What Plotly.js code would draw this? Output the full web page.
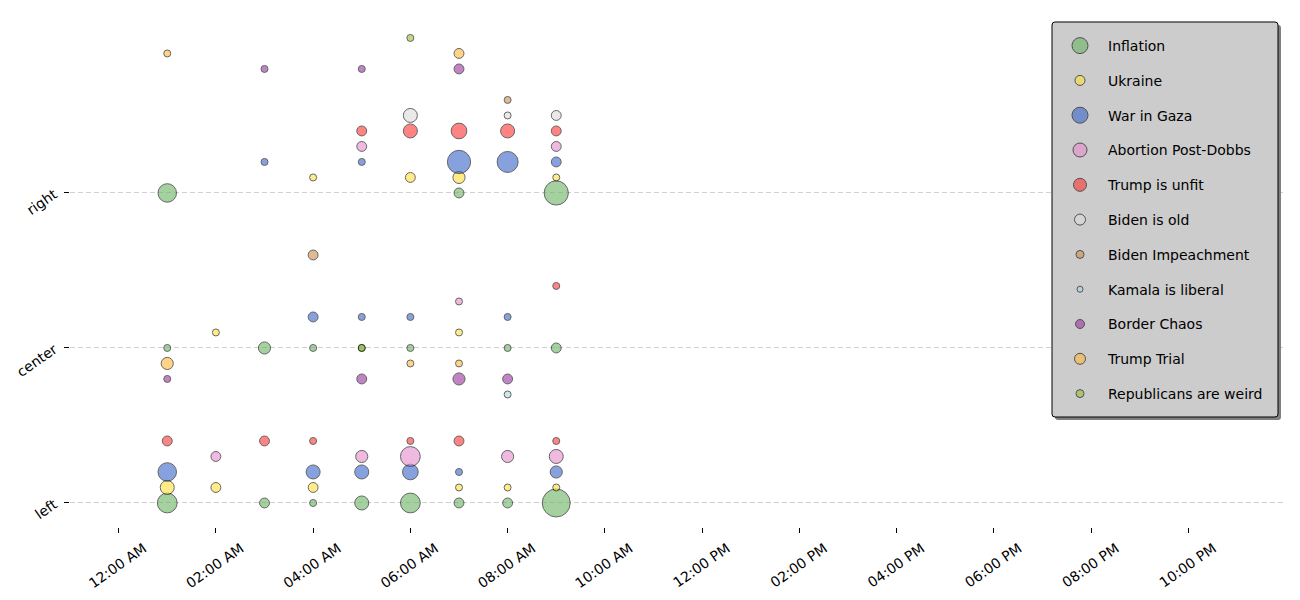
<!DOCTYPE html>
<html><head><meta charset="utf-8">
<script src="https://cdn.plot.ly/plotly-3.0.1.min.js"></script>
<style>html,body{margin:0;padding:0;background:#fff}#chart{width:1300px;height:600px}</style>
</head><body><div id="chart"></div>
<script>
const topics = ['Inflation','Ukraine','War in Gaza','Abortion Post-Dobbs','Trump is unfit','Biden is old','Biden Impeachment','Kamala is liberal','Border Chaos','Trump Trial','Republicans are weird'];
const leanings = ['left','center','right'];

// each entry: [hour of day, leaning, number of stories]
const inflation = [[1,'left',8],[3,'left',2],[4,'left',1],[5,'left',4],[6,'left',8],[7,'left',2],[8,'left',2],[9,'left',16],
  [1,'center',1],[3,'center',3],[4,'center',1],[5,'center',1],[6,'center',1],[8,'center',1],[9,'center',2],
  [1,'right',7],[7,'right',2],[9,'right',12]];
const ukraine = [[1,'left',4],[2,'left',2],[4,'left',2],[7,'left',1],[8,'left',1],[9,'left',1],
  [2,'center',1],[7,'center',1],
  [4,'right',1],[6,'right',2],[7,'right',3],[9,'right',1]];
const warInGaza = [[1,'left',7],[4,'left',4],[5,'left',4],[6,'left',5],[7,'left',1],[9,'left',3],
  [4,'center',2],[5,'center',1],[6,'center',1],[8,'center',1],
  [3,'right',1],[5,'right',1],[7,'right',11],[8,'right',9],[9,'right',2]];
const abortion = [[2,'left',2],[5,'left',3],[6,'left',8],[8,'left',3],[9,'left',4],
  [7,'center',1],
  [5,'right',2],[9,'right',2]];
const trumpUnfit = [[1,'left',2],[3,'left',2],[4,'left',1],[6,'left',1],[7,'left',2],[9,'left',1],
  [9,'center',1],
  [5,'right',2],[6,'right',4],[7,'right',5],[8,'right',4],[9,'right',2]];
const bidenOld = [[6,'right',4],[8,'right',1],[9,'right',2]];
const bidenImpeachment = [[4,'center',2],[8,'right',1]];
const kamalaLiberal = [[8,'center',1]];
const borderChaos = [[1,'center',1],[5,'center',2],[7,'center',3],[8,'center',2],
  [3,'right',1],[5,'right',1],[7,'right',2]];
const trumpTrial = [[1,'center',3],[6,'center',1],[7,'center',1],
  [1,'right',1],[7,'right',2]];
const republicansWeird = [[5,'center',1],[6,'right',1]];

const series = [inflation, ukraine, warInGaza, abortion, trumpUnfit, bidenOld, bidenImpeachment, kamalaLiberal, borderChaos, trumpTrial, republicansWeird];

// styles
const colors = ['rgb(105,180,97)','rgb(255,225,60)','rgb(55,100,200)','rgb(230,140,205)','rgb(255,50,50)','rgb(220,220,220)','rgb(205,140,80)','rgb(173,216,230)','rgb(155,50,160)','rgb(255,185,60)','rgb(154,190,50)'];
const legendSizes = [20,10,16,14,13,11,8,6,9,11,8];
const FONT = 'DejaVu Sans, sans-serif';

// plot area in pixels
const L = 70, R = 16, T = 15, B = 73, W = 1300 - L - R, H = 600 - T - B;
const px2x = p => (p - L) / W;
const px2y = p => (T + H - p) / H;

function hourToDate(h) {
  const hh = String(h).padStart(2, '0');
  return '2024-01-01 ' + hh + ':00';
}
function yPos(i, lean) {
  const base = leanings.indexOf(lean);
  let off = 0.1 * i;
  if (lean === 'center' && i >= 7) off -= 1;
  return base + off;
}

const traces = [];
// legend entries
topics.forEach((t, i) => {
  traces.push({
    type: 'scatter', mode: 'markers', x: [null], y: [null], name: t,
    legendgroup: t, showlegend: true, hoverinfo: 'skip',
    marker: {size: legendSizes[i], color: colors[i], opacity: 0.6, line: {color: '#000', width: 1}}
  });
});
// data
series.forEach((s, i) => {
  traces.push({
    type: 'scatter', mode: 'markers', name: topics[i], legendgroup: topics[i], showlegend: false,
    x: s.map(d => hourToDate(d[0])),
    y: s.map(d => yPos(i, d[1])),
    text: s.map(d => d[1] + ': ' + d[2]),
    marker: {size: s.map(d => d[2]), sizemode: 'area', sizeref: 2/49, sizemin: 0,
      color: colors[i], opacity: 0.6, line: {color: '#000', width: 1}}
  });
});

function roundRectPath(x0, y0, x1, y1, r) {
  const P = (x, y) => px2x(x).toFixed(5) + ',' + px2y(y).toFixed(5);
  return 'M' + P(x0 + r, y0) + ' L' + P(x1 - r, y0) + ' Q' + P(x1, y0) + ' ' + P(x1, y0 + r) +
    ' L' + P(x1, y1 - r) + ' Q' + P(x1, y1) + ' ' + P(x1 - r, y1) +
    ' L' + P(x0 + r, y1) + ' Q' + P(x0, y1) + ' ' + P(x0, y1 - r) +
    ' L' + P(x0, y0 + r) + ' Q' + P(x0, y0) + ' ' + P(x0 + r, y0) + ' Z';
}

const layout = {
  width: 1300, height: 600,
  margin: {l: L, r: R, t: T, b: B, pad: 0},
  paper_bgcolor: '#fff', plot_bgcolor: '#fff',
  font: {family: FONT, size: 14, color: '#000'},
  showlegend: true,
  xaxis: {
    type: 'date', range: ['2023-12-31 23:00', '2024-01-01 23:58'],
    tick0: '2024-01-01 00:00', dtick: 7200000, tickformat: '%I:%M %p',
    tickangle: -35, ticks: 'outside', ticklen: 5, tickwidth: 1, tickcolor: '#000',
    ticklabelshift: 25, ticklabelstandoff: 2,
    showgrid: false, zeroline: false, showline: false,
    tickfont: {family: FONT, size: 14, color: '#000'}
  },
  yaxis: {
    range: [-0.155, 3.148], tickvals: [0, 1, 2], ticktext: leanings,
    tickangle: -35, ticks: 'outside', ticklen: 5, tickwidth: 1, tickcolor: '#000',
    ticklabelstandoff: 7,
    showgrid: true, gridcolor: '#d0d0d0', gridwidth: 1, griddash: '5px,3px',
    zeroline: false, showline: false,
    tickfont: {family: FONT, size: 14, color: '#000'}
  },
  legend: {
    x: px2x(1052), y: px2y(30), xanchor: 'left', yanchor: 'top',
    bgcolor: 'rgba(0,0,0,0)', borderwidth: 0,
    font: {family: FONT, size: 14, color: '#000'},
    itemwidth: 46, tracegroupgap: 13.6, traceorder: 'grouped'
  },
  shapes: [
    {type: 'path', xref: 'paper', yref: 'paper', layer: 'above', path: roundRectPath(1055, 25, 1281, 420, 3),
     fillcolor: '#808080', line: {width: 0}},
    {type: 'path', xref: 'paper', yref: 'paper', layer: 'above', path: roundRectPath(1052, 22, 1278, 417, 3),
     fillcolor: '#cccccc', line: {color: '#000', width: 1}}
  ],
  hovermode: 'closest'
};

Plotly.newPlot('chart', traces, layout, {displayModeBar: false, responsive: false});
</script>
</body></html>
